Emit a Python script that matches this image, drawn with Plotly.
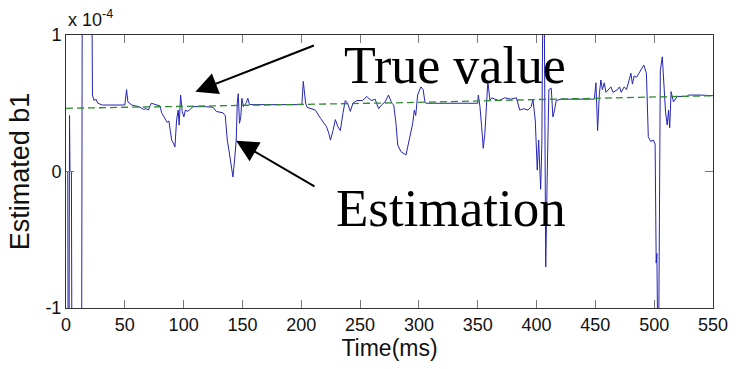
import plotly.graph_objects as go

# Estimated b1 (units of 1e-4) vs time (ms)
time_est = [0, 1.5, 1.8, 2.6, 3.0, 3.4, 4.6, 5.0, 13.3, 13.8, 22.0, 22.5, 23.8, 25.5, 27, 31, 50, 51.5, 52.6, 56,
            62, 66, 68, 70, 72.5, 76, 80, 81.3, 84, 86, 87.5, 88.4, 89.8, 91.2, 92.6, 94, 95.4, 96.2, 97.4, 98.8,
            100.2, 101.5, 103.7, 106, 108, 119, 125, 127.8, 133.4, 135.4, 137.1, 138.5, 139.9, 141.9, 143.3, 144.7,
            145.6, 146.4, 147.5, 148.6, 149.5, 150.9, 153, 154.6, 156, 200.5, 201.7, 203.7, 205, 209, 212, 216.3,
            219, 221.4, 223.4, 224.8, 227, 229, 231, 233.2, 235.5, 237.4, 239.4, 241.7, 243.9, 247.3, 252, 255.8,
            258, 260, 262.8, 265.7, 268.5, 271.3, 274.1, 277, 278.6, 280.5, 282, 284.8, 289, 291.9, 294.7, 296.1,
            297.3, 298.9, 301.7, 303.6, 305.1, 306, 350, 350.5, 351.9, 353.3, 354.7, 356.1, 357.5, 358.6, 360.4,
            362, 364.6, 368, 373, 378, 382.9, 385.7, 389, 392.7, 395.5, 396.9, 398.9, 400.6, 401.8, 403.5, 404.5,
            405.4, 406.5, 407.8, 409.1, 410.5, 412.5, 413.9, 415.3, 416.7, 420.9, 449.1, 450.5, 451.9, 453.4, 454.7,
            456, 457.6, 459, 461.5, 463.2, 465, 468.8, 470.5, 472, 474.5, 476.5, 478.7, 480.2, 481.5, 483, 485,
            488.3, 491.2, 493.4, 495, 497, 499.3, 500.8, 501.7, 502.3, 503.1, 503.8, 505.2, 506.9, 508.5, 509.7,
            511.1, 512.2, 513.2, 514.4, 516.4, 517.9, 519.6, 528, 529.1, 539, 550]
b1_est = [0.0, 0.0, -1.3, -1.3, 0.41, 0.0, 0.0, -1.3, -1.3, 1.3, 1.3, 0.56, 0.52, 0.53, 0.50, 0.487, 0.487, 0.60, 0.51, 0.487,
          0.475, 0.455, 0.46, 0.45, 0.50, 0.49, 0.48, 0.43, 0.39, 0.36, 0.37, 0.32, 0.23, 0.21, 0.18, 0.377, 0.45, 0.34, 0.56, 0.44,
          0.40, 0.45, 0.44, 0.46, 0.475, 0.475, 0.47, 0.44, 0.43, 0.41, 0.23, 0.157, 0.084, -0.04, 0.084, 0.23,
          0.50, 0.57, 0.353, 0.40, 0.536, 0.475, 0.50, 0.536, 0.49, 0.49, 0.66, 0.50, 0.47, 0.46, 0.45, 0.39,
          0.36, 0.33, 0.28, 0.23, 0.30, 0.38, 0.33, 0.30, 0.43, 0.52, 0.50, 0.44, 0.50, 0.52, 0.52, 0.55,
          0.53, 0.52, 0.53, 0.46, 0.49, 0.51, 0.56, 0.50, 0.487, 0.353, 0.194, 0.145, 0.121, 0.23, 0.35, 0.45,
          0.41, 0.56, 0.62, 0.60, 0.51, 0.50, 0.50, 0.56, 0.475, 0.33, 0.17, 0.28, 0.55, 0.66, 0.52,
          0.54, 0.53, 0.52, 0.54, 0.53, 0.54, 0.45, 0.46, 0.45, 0.475, 0.53, 0.377, 0.01, 0.23, -0.13, 0.2,
          1.3, 1.3, -0.70, -0.01, 0.60, 0.61, 0.40, 0.45, 0.52, 0.53, 0.53, 0.65, 0.30, 0.57, 0.67,
          0.60, 0.65, 0.58, 0.60, 0.62, 0.58, 0.60, 0.62, 0.58, 0.62, 0.60, 0.67, 0.72, 0.64, 0.70, 0.69,
          0.74, 0.78, 0.72, 0.255, 0.22, 0.23, 0.20, -0.67, -0.60, -1.3, -1.3, 0.74, 0.84, 0.60, 0.43,
          0.34, 0.45, 0.32, 0.585, 0.51, 0.525, 0.55, 0.55, 0.56, 0.56, 0.555]

# True value of b1
time_true = [0, 140, 280, 420, 550]
b1_true = [0.463, 0.483, 0.503, 0.531, 0.555]

x_ticks = [0, 50, 100, 150, 200, 250, 300, 350, 400, 450, 500, 550]
y_ticks = [-1, 0, 1]
y_tick_text = ["-1", "0", "1"]

SANS = "Liberation Sans Narrow, Arial Narrow, Liberation Sans, Arial, sans-serif"
SERIF = "Liberation Serif, Times New Roman, serif"

fig = go.Figure()
fig.add_trace(go.Scatter(x=time_est, y=b1_est, mode="lines",
                         line=dict(color="#2525b5", width=1), showlegend=False))
fig.add_trace(go.Scatter(x=time_true, y=b1_true, mode="lines",
                         line=dict(color="#2e8b2e", width=1.3, dash="7px,4px"), showlegend=False))

axis_common = dict(showline=True, linecolor="#333333", linewidth=1, mirror="ticks",
                   ticks="inside", ticklen=8, tickcolor="#777777", showgrid=False, zeroline=False,
                   tickfont=dict(family=SANS, size=18, color="#111111"))

fig.update_xaxes(range=[0, 550], tickvals=x_ticks, **axis_common,
                 title=dict(text="Time(ms)", font=dict(family=SANS, size=23, color="#111111"), standoff=6))
fig.update_yaxes(range=[-1, 1], tickvals=y_ticks, ticktext=y_tick_text, **axis_common,
                 title=dict(text="Estimated b1", font=dict(family="Liberation Sans, Arial, sans-serif", size=27, color="#111111"), standoff=7))

annotations = [
    dict(x=0, y=1, xref="paper", yref="paper", xanchor="left", yanchor="bottom", yshift=3,
         text="x 10<sup>-4</sup>", showarrow=False, font=dict(family=SANS, size=18, color="#111111")),
    dict(x=234.6, y=0.78, xref="x", yref="y", xanchor="left", yanchor="middle",
         text="True value", showarrow=False, font=dict(family=SERIF, size=52, color="#000000")),
    dict(x=227.9, y=-0.27, xref="x", yref="y", xanchor="left", yanchor="middle",
         text="Estimation", showarrow=False, font=dict(family=SERIF, size=53, color="#000000")),
    dict(x=110, y=0.585, xref="x", yref="y", ax=212, ay=0.927, axref="x", ayref="y",
         text="", showarrow=True, arrowhead=2, arrowsize=2.2, arrowwidth=2, arrowcolor="#000000"),
    dict(x=144.6, y=0.225, xref="x", yref="y", ax=212.5, ay=-0.115, axref="x", ayref="y",
         text="", showarrow=True, arrowhead=2, arrowsize=2.2, arrowwidth=2, arrowcolor="#000000"),
]

fig.update_layout(width=740, height=369, margin=dict(l=66, r=24, t=35, b=61),
                  paper_bgcolor="white", plot_bgcolor="white", annotations=annotations)

fig.write_html("out.html")
